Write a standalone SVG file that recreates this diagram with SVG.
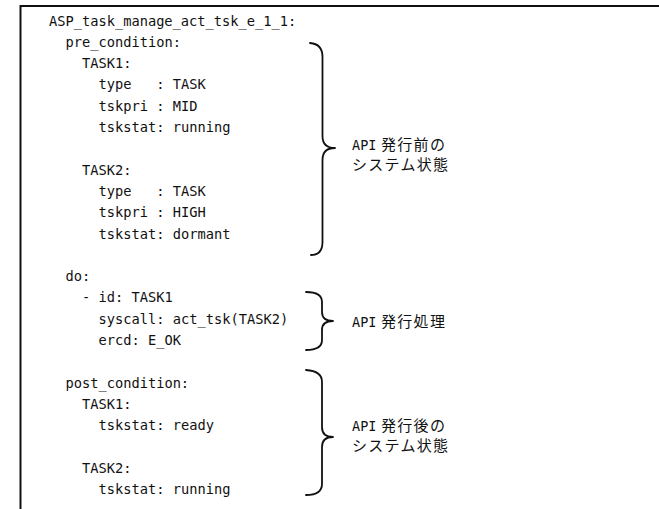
<svg xmlns="http://www.w3.org/2000/svg" width="659" height="509" viewBox="0 0 659 509">
<style>
.code{font-family:"DejaVu Sans Mono","Liberation Mono",monospace;font-size:13.7px;fill:#111;white-space:pre}
.lbl{font-family:"Noto Sans CJK JP","DejaVu Sans",sans-serif;font-size:15px;fill:#111}
.api{font-family:"DejaVu Sans Mono","Liberation Mono",monospace;font-size:13.5px;fill:#111}
.cjk{letter-spacing:1.3px}
.brace{fill:none;stroke:#111;stroke-width:1.8;stroke-linecap:round;stroke-linejoin:round}
.frame{fill:none;stroke:#111;stroke-width:2}
</style>
<g id="frame">
<line class="frame" x1="20.5" y1="6" x2="659" y2="6"/>
<line class="frame" x1="20.5" y1="5" x2="20.5" y2="509"/>
</g>
<g id="code" xml:space="preserve">
<text class="code" x="49" y="25.5">ASP_task_manage_act_tsk_e_1_1:</text>
<text class="code" x="65.5" y="46.8">pre_condition:</text>
<text class="code" x="82" y="68.1">TASK1:</text>
<text class="code" x="98.6" y="89.4">type   : TASK</text>
<text class="code" x="98.6" y="110.7">tskpri : MID</text>
<text class="code" x="98.6" y="132">tskstat: running</text>
<text class="code" x="82" y="174.6">TASK2:</text>
<text class="code" x="98.6" y="195.9">type   : TASK</text>
<text class="code" x="98.6" y="217.2">tskpri : HIGH</text>
<text class="code" x="98.6" y="238.5">tskstat: dormant</text>
<text class="code" x="65.5" y="281.1">do:</text>
<text class="code" x="82" y="302.4">- id: TASK1</text>
<text class="code" x="98.6" y="323.7">syscall: act_tsk(TASK2)</text>
<text class="code" x="98.6" y="345">ercd: E_OK</text>
<text class="code" x="65.5" y="387.6">post_condition:</text>
<text class="code" x="82" y="408.9">TASK1:</text>
<text class="code" x="98.6" y="430.2">tskstat: ready</text>
<text class="code" x="82" y="472.8">TASK2:</text>
<text class="code" x="98.6" y="494.1">tskstat: running</text>
</g>
<g id="connectors">
<path id="brace-pre" class="brace" d="M310,43 Q322.5,44 322.5,57 L322.5,136 Q322.5,148 335,148 Q322.5,148 322.5,160 L322.5,242 Q322.5,255 311,255"/>
<path id="brace-do" class="brace" d="M306,292 Q322,292 322,302 L322,312 Q322,321 333,321 Q322,321 322,330 L322,340 Q322,350 306,350"/>
<path id="brace-post" class="brace" d="M306,370 Q322,371 322,382 L322,427 Q322,437 333,437 Q322,437 322,447 L322,484 Q322,495 306,495"/>
</g>
<g id="label-pre">
<text class="lbl" y="149.5"><tspan class="api" x="352">API</tspan><tspan class="cjk" x="381">発行前の</tspan></text>
<text class="lbl cjk" x="352" y="169.5">システム状態</text>
</g>
<g id="label-do">
<text class="lbl" y="326.5"><tspan class="api" x="352">API</tspan><tspan class="cjk" x="381">発行処理</tspan></text>
</g>
<g id="label-post">
<text class="lbl" y="430.5"><tspan class="api" x="352">API</tspan><tspan class="cjk" x="381">発行後の</tspan></text>
<text class="lbl cjk" x="352" y="450.5">システム状態</text>
</g>
</svg>
